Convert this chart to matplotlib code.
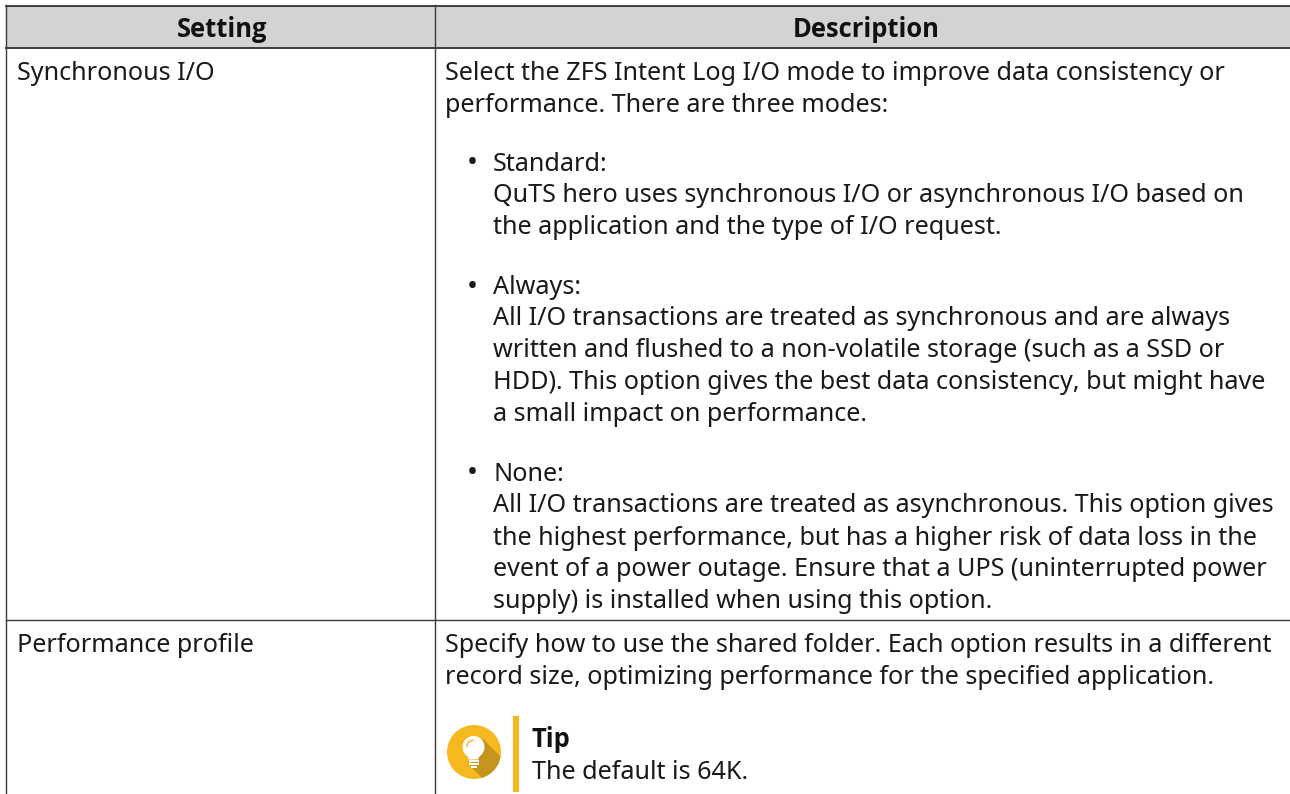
import matplotlib
matplotlib.use("Agg")
import matplotlib.pyplot as plt
from matplotlib.patches import Circle, Polygon, Rectangle, Wedge

headers = ["Setting", "Description"]
settings = ["Synchronous I/O", "Performance profile"]

desc_lines = [
    (445, 80, "Select the ZFS Intent Log I/O mode to improve data consistency or"),
    (445, 111.5, "performance. There are three modes:"),
    (493, 171, "Standard:"),
    (493, 202.5, "QuTS hero uses synchronous I/O or asynchronous I/O based on"),
    (493, 234, "the application and the type of I/O request."),
    (493, 294.5, "Always:"),
    (493, 325, "All I/O transactions are treated as synchronous and are always"),
    (493, 357, "written and flushed to a non-volatile storage (such as a SSD or"),
    (493, 389, "HDD). This option gives the best data consistency, but might have"),
    (493, 421, "a small impact on performance."),
    (493, 481, "None:"),
    (493, 512.5, "All I/O transactions are treated as asynchronous. This option gives"),
    (493, 545, "the highest performance, but has a higher risk of data loss in the"),
    (493, 576.5, "event of a power outage. Ensure that a UPS (uninterrupted power"),
    (493, 608, "supply) is installed when using this option."),
    (445, 652, "Specify how to use the shared folder. Each option results in a different"),
    (445, 683.5, "record size, optimizing performance for the specified application."),
    (532, 779, "The default is 64K."),
]
bullets = [(467, 171.5), (467, 294.5), (467, 481.5)]

plt.rcParams["font.family"] = ["Noto Sans", "DejaVu Sans"]
fs = 18.12
fs_bold = 18.4
ink = "#1a1a1a"
line = "#3c3c3c"

fig = plt.figure(figsize=(12.9, 7.94), dpi=100)
ax = fig.add_axes([0, 0, 1, 1])
ax.set_xlim(0, 1290)
ax.set_ylim(794, 0)
ax.axis("off")

# header band
ax.add_patch(Rectangle((6, 5.5), 1284, 43, fc="#d3d3d3", ec="none"))
ax.plot([6, 1290], [5.5, 5.5], color="#222222", lw=1.2)
ax.plot([6, 1290], [48, 48], color="#222222", lw=1.2)
ax.plot([6, 1290], [619.5, 619.5], color=line, lw=1.0)
ax.plot([6, 6], [5, 794], color=line, lw=1.0)
ax.plot([434.5, 434.5], [5, 794], color=line, lw=1.0)

# Noto Sans has no bold face here, Open Sans bold is very close
ax.text(222.5, 37, headers[0], fontsize=fs_bold, family="Open Sans", fontweight="bold", ha="center", va="baseline", color="#111111")
ax.text(866, 37, headers[1], fontsize=fs_bold, family="Open Sans", fontweight="bold", ha="center", va="baseline", color="#111111")

ax.text(17, 80, settings[0], fontsize=fs, va="baseline", color=ink)
ax.text(17, 652, settings[1], fontsize=fs, va="baseline", color=ink)

for x, y, s in desc_lines:
    ax.text(x, y, s, fontsize=fs, va="baseline", color=ink)
for x, y in bullets:
    ax.text(x, y, "•", fontsize=21, va="baseline", color=ink)

# tip icon
cx, cy, r = 474, 752, 27
yellow = "#f5b81f"
icon = Circle((cx, cy), r, fc=yellow, ec="none")
ax.add_patch(icon)
shadow = Polygon([(483, 739), (510, 766), (490, 786), (470, 766)], fc="#c4951c", ec="none")
ax.add_patch(shadow)
shadow.set_clip_path(icon)
ax.add_patch(Circle((473.5, 747), 11, fc="white", ec="none"))
ax.add_patch(Polygon([(466, 753), (481, 753), (478, 759.5), (469, 759.5)], fc="white", ec="none"))
ax.add_patch(Wedge((473.5, 747), 7.5, 180, 270, width=1.5, fc=yellow, ec="none"))
for yy in [760, 763]:
    ax.add_patch(Rectangle((469, yy), 9.5, 1.8, fc="white", ec="none"))
ax.add_patch(Rectangle((471, 766), 5.5, 1.8, fc="white", ec="none"))

ax.add_patch(Rectangle((513, 716), 6, 76, fc=yellow, ec="none"))
ax.text(532, 747, "Tip", fontsize=fs_bold, family="Open Sans", fontweight="bold", va="baseline", color="#111111")

fig.savefig("out.png", dpi=100)
